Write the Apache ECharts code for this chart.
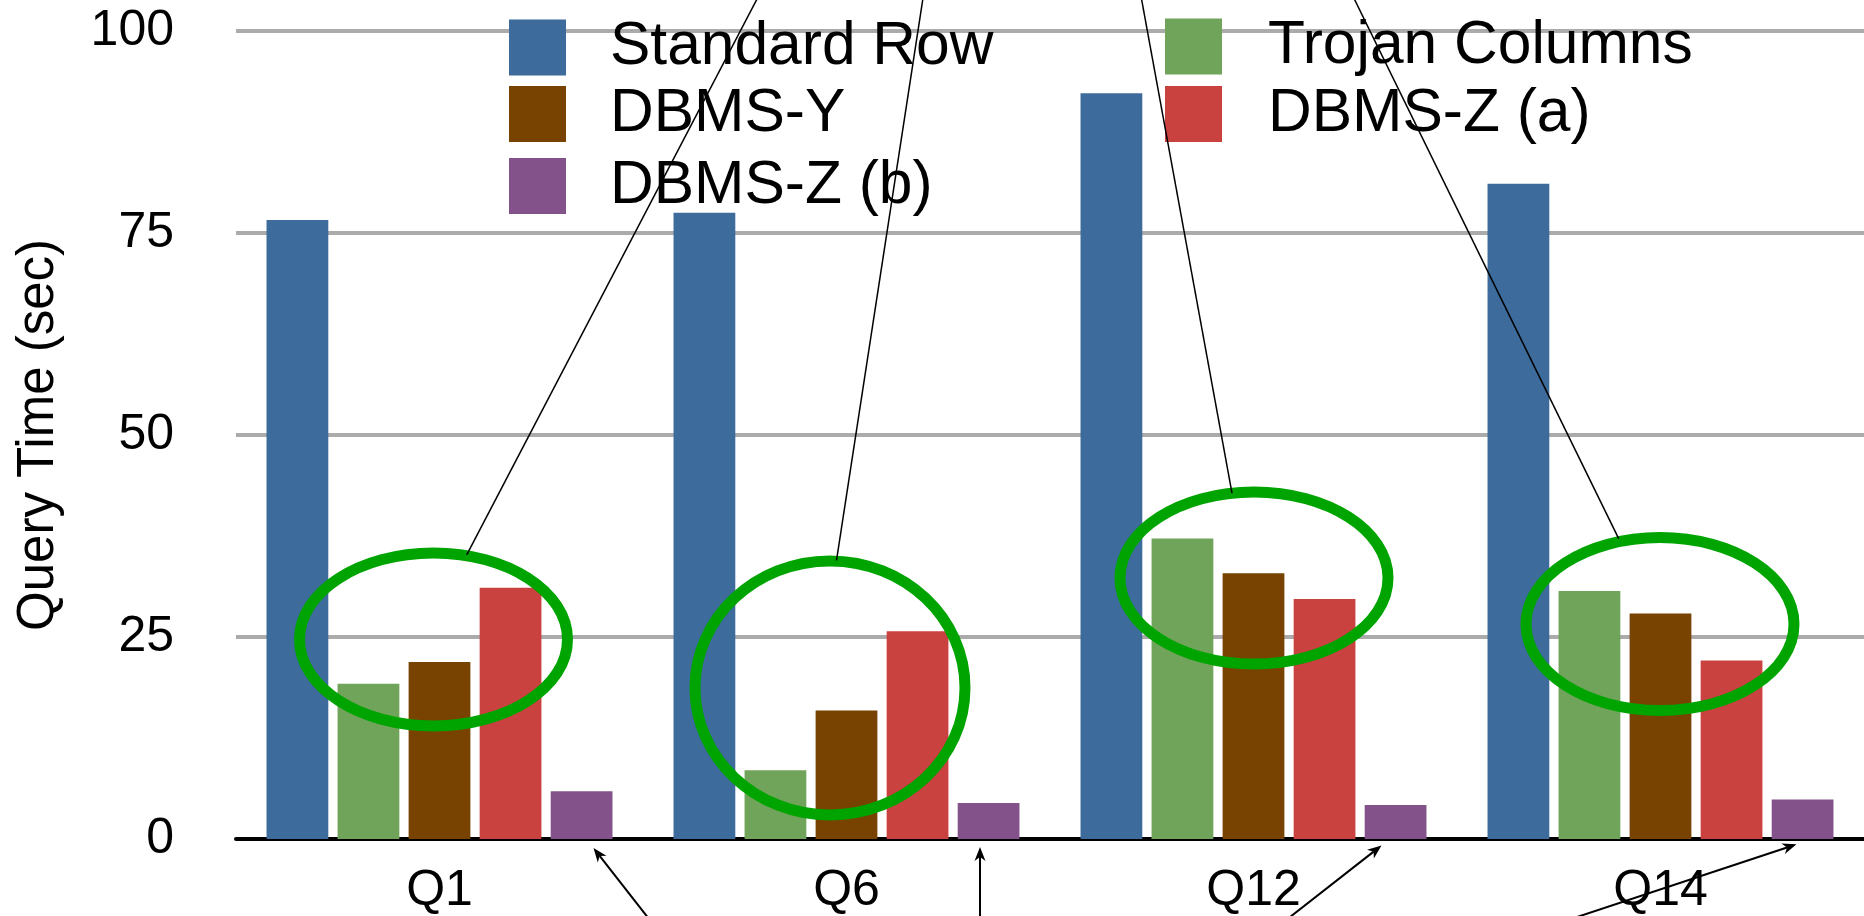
<!DOCTYPE html>
<html>
<head>
<meta charset="utf-8">
<script src="https://cdn.jsdelivr.net/npm/echarts@6/dist/echarts.min.js"></script>
<style>
  html, body { margin: 0; padding: 0; background: #ffffff; }
  #chart { width: 1864px; height: 916px; }
</style>
</head>
<body>
<div id="chart"></div>
<script>
// ---- data ----
const categories = ['Q1', 'Q6', 'Q12', 'Q14'];
const standardRow   = [76.6, 77.5, 92.3, 81.1];
const trojanColumns = [19.2, 8.5, 37.2, 30.7];
const dbmsY         = [21.9, 15.9, 32.9, 27.9];
const dbmsZa        = [31.1, 25.7, 29.7, 22.1];
const dbmsZb        = [5.9, 4.45, 4.2, 4.9];
const yTickLabels   = ['0', '25', '50', '75', '100'];
// annotation anchors (value at centre of each highlight ellipse)
const highlightCentres = [24.7, 18.7, 32.3, 26.6];

// ---- styles ----
const FONT = 'Helvetica, "Liberation Sans", Arial, sans-serif';
const colors = {
  'Standard Row': '#3D6B9B',
  'Trojan Columns': '#6FA45A',
  'DBMS-Y': '#784300',
  'DBMS-Z (a)': '#C9423F',
  'DBMS-Z (b)': '#83528A'
};
// legend grid placement (two columns)
const legendPlacement = [
  { name: 'Standard Row',   left: 509,  top: 17,    pad: 39 },
  { name: 'DBMS-Y',         left: 509,  top: 83.5,  pad: 39 },
  { name: 'DBMS-Z (b)',     left: 509,  top: 155.5, pad: 39 },
  { name: 'Trojan Columns', left: 1165, top: 16,    pad: 41 },
  { name: 'DBMS-Z (a)',     left: 1165, top: 83.5,  pad: 41 }
];
const ellipseLayout = [
  { dx: -6,    rx: 134, ry: 86.5, sx: 33.2,  sy: -84.5,  ex: 323 },
  { dx: -16.5, rx: 135, ry: 127,  sx: 6.5,   sy: -127.5, ex: 92.7 },
  { dx: 0.5,   rx: 134, ry: 86,   sx: -22,   sy: -85,    ex: -112.3 },
  { dx: -0.5,  rx: 134, ry: 86.5, sx: -41.3, sy: -85.5,  ex: -305.2 }
];
const arrowLayout = [
  { hx: 154,   hy: 9,   tx: 209.5, ty: 80 },
  { hx: 133.5, hy: 8,   tx: 133.5, ty: 80 },
  { hx: 128,   hy: 6.5, tx: 34,    ty: 80 },
  { hx: 136,   hy: 5.3, tx: -89.5, ty: 80 }
];

const chart = echarts.init(document.getElementById('chart'), null, { renderer: 'canvas' });

function barSeries(name, data) {
  return {
    name: name, type: 'bar', data: data,
    itemStyle: { color: colors[name] },
    barGap: '15%', barCategoryGap: '15%',
    animation: false
  };
}

const legends = legendPlacement.map(function (l) {
  return {
    data: [l.name], left: l.left, top: l.top,
    orient: 'vertical', icon: 'rect', itemWidth: 57, itemHeight: 56,
    padding: 0, selectedMode: false,
    textStyle: { fontSize: 60.5, color: '#000', fontFamily: FONT, padding: [0, 0, 0, l.pad] }
  };
});

chart.setOption({
  animation: false,
  backgroundColor: '#ffffff',
  textStyle: { fontFamily: FONT },
  grid: { left: 236, right: 0, top: 31, bottom: 77, containLabel: false },
  legend: legends,
  xAxis: {
    type: 'category', data: categories,
    axisLine: { lineStyle: { color: '#000', width: 4 } },
    axisTick: { show: false },
    axisLabel: { fontSize: 50, color: '#000', fontFamily: FONT, margin: 27 }
  },
  yAxis: {
    type: 'value', min: 0, max: 100, interval: 25,
    name: 'Query Time (sec)', nameLocation: 'middle', nameGap: 172,
    nameTextStyle: { fontSize: 51, color: '#000', fontFamily: FONT },
    axisLine: { show: false }, axisTick: { show: false },
    axisLabel: { fontSize: 50, color: '#000', fontFamily: FONT, margin: 62,
      formatter: function (v) { return yTickLabels[Math.round(v / 25)]; } },
    splitLine: { lineStyle: { color: '#ABABAB', width: 4 } }
  },
  series: [
    barSeries('Standard Row', standardRow),
    barSeries('Trojan Columns', trojanColumns),
    barSeries('DBMS-Y', dbmsY),
    barSeries('DBMS-Z (a)', dbmsZa),
    barSeries('DBMS-Z (b)', dbmsZb)
  ]
});

function buildAnnotations() {
  const els = [];
  const y0 = chart.convertToPixel({ gridIndex: 0 }, [0, 0])[1];
  categories.forEach(function (c, i) {
    const p = chart.convertToPixel({ gridIndex: 0 }, [i, highlightCentres[i]]);
    const e = ellipseLayout[i];
    const cx = p[0] + e.dx, cy = p[1];
    els.push({ type: 'ellipse', z: 100, silent: true,
      shape: { cx: cx, cy: cy, rx: e.rx, ry: e.ry },
      style: { fill: 'none', stroke: '#00A400', lineWidth: 11 } });
    // leader line to the top
    const x1 = cx + e.sx, y1 = cy + e.sy, x2 = cx + e.ex, y2 = 0;
    const k = (x2 - x1) / (y2 - y1);
    els.push({ type: 'line', z: 101, silent: true,
      shape: { x1: x1, y1: y1, x2: x1 + k * (-10 - y1), y2: -10 },
      style: { stroke: '#000', lineWidth: 1.5 } });
    // arrow from below
    const cxCat = chart.convertToPixel({ gridIndex: 0 }, [i, 0])[0];
    const a = arrowLayout[i];
    const hx = cxCat + a.hx, hy = y0 + a.hy, tx = cxCat + a.tx, ty = y0 + a.ty;
    const dx = hx - tx, dy = hy - ty, L = Math.sqrt(dx * dx + dy * dy);
    const ux = dx / L, uy = dy / L, nx = -uy, ny = ux;
    const len = 14, hw = 5.5, notch = 10;
    const bx = hx - ux * len, by = hy - uy * len;
    els.push({ type: 'line', z: 101, silent: true,
      shape: { x1: tx, y1: ty, x2: hx - ux * notch, y2: hy - uy * notch },
      style: { stroke: '#000', lineWidth: 2 } });
    els.push({ type: 'polygon', z: 101, silent: true,
      shape: { points: [[hx, hy], [bx + nx * hw, by + ny * hw], [hx - ux * notch, hy - uy * notch], [bx - nx * hw, by - ny * hw]] },
      style: { fill: '#000' } });
  });
  chart.setOption({ graphic: { elements: els } });
}
buildAnnotations();
</script>
</body>
</html>
